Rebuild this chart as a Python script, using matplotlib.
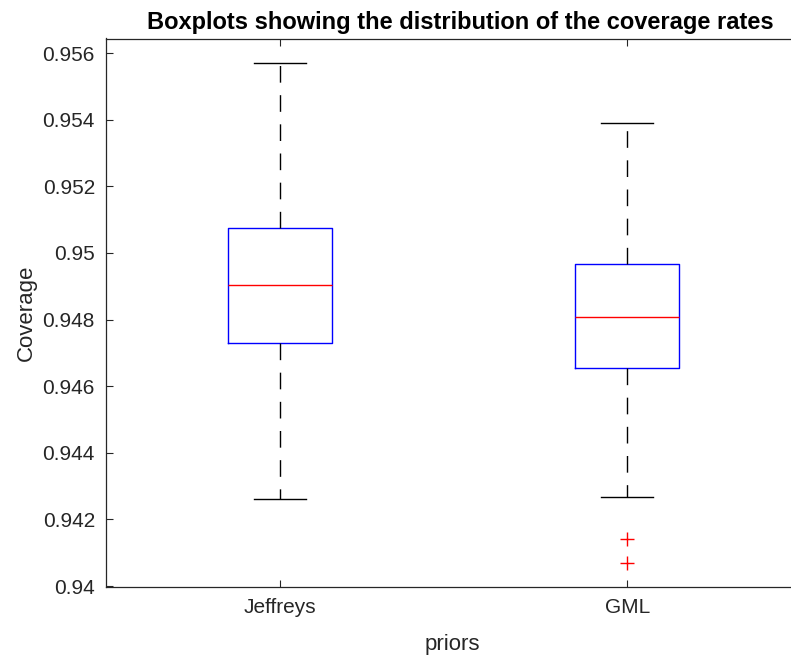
import matplotlib.pyplot as plt

# priors and the box statistics
priors = ["Jeffreys", "GML"]
whislo = [0.9426, 0.94268]
q1 = [0.9473, 0.94654]
med = [0.94904, 0.94808]
q3 = [0.95075, 0.94967]
whishi = [0.9557, 0.9539]
fliers = [[], [0.9414, 0.94068]]

stats = []
for i in range(len(priors)):
    stats.append(dict(label=priors[i], whislo=whislo[i], q1=q1[i], med=med[i],
                      q3=q3[i], whishi=whishi[i], fliers=fliers[i]))

plt.rcParams['font.family'] = ['Liberation Sans', 'DejaVu Sans']

fig = plt.figure(figsize=(7.91, 6.57), dpi=100)
# axes go a bit past the right edge, like the cropped original
ax = fig.add_axes([106 / 791, 1 - 587 / 657, 695 / 791, (587 - 38.5) / 657])

ax.bxp(stats, positions=[1, 2], widths=0.3,
       boxprops=dict(color='blue', linewidth=1.0),
       medianprops=dict(color='#ff0000', linewidth=1.0),
       whiskerprops=dict(color='black', linewidth=1.0, linestyle=(0, (12, 9))),
       capprops=dict(color='black', linewidth=1.0),
       flierprops=dict(marker='+', markeredgecolor='red', markersize=10,
                       markeredgewidth=1.0, linestyle='none'),
       capwidths=0.15)

ax.set_xlim(0.5, 2.5)
ax.set_ylim(0.93997, 0.95644)
ax.set_yticks([0.94, 0.942, 0.944, 0.946, 0.948, 0.95, 0.952, 0.954, 0.956])
ax.set_yticklabels(['0.94', '0.942', '0.944', '0.946', '0.948', '0.95', '0.952', '0.954', '0.956'])
ax.set_xticks([1, 2])
ax.set_xticklabels(priors)
ax.tick_params(direction='in', length=5, width=0.8, colors='#262626', labelsize=15, pad=8,
               top=True, right=True)
for s in ax.spines.values():
    s.set_color('#262626')
    s.set_linewidth(0.9)

ax.set_title("Boxplots showing the distribution of the coverage rates",
             fontsize=17, fontweight='bold', pad=7, x=(460 - 106) / 695)
ax.set_ylabel("Coverage", fontsize=16, color='#262626', labelpad=4)
ax.set_xlabel("priors", fontsize=16, color='#262626')
ax.xaxis.set_label_coords((452 - 106) / 695, -0.085)

fig.savefig("out.png", dpi=100)
